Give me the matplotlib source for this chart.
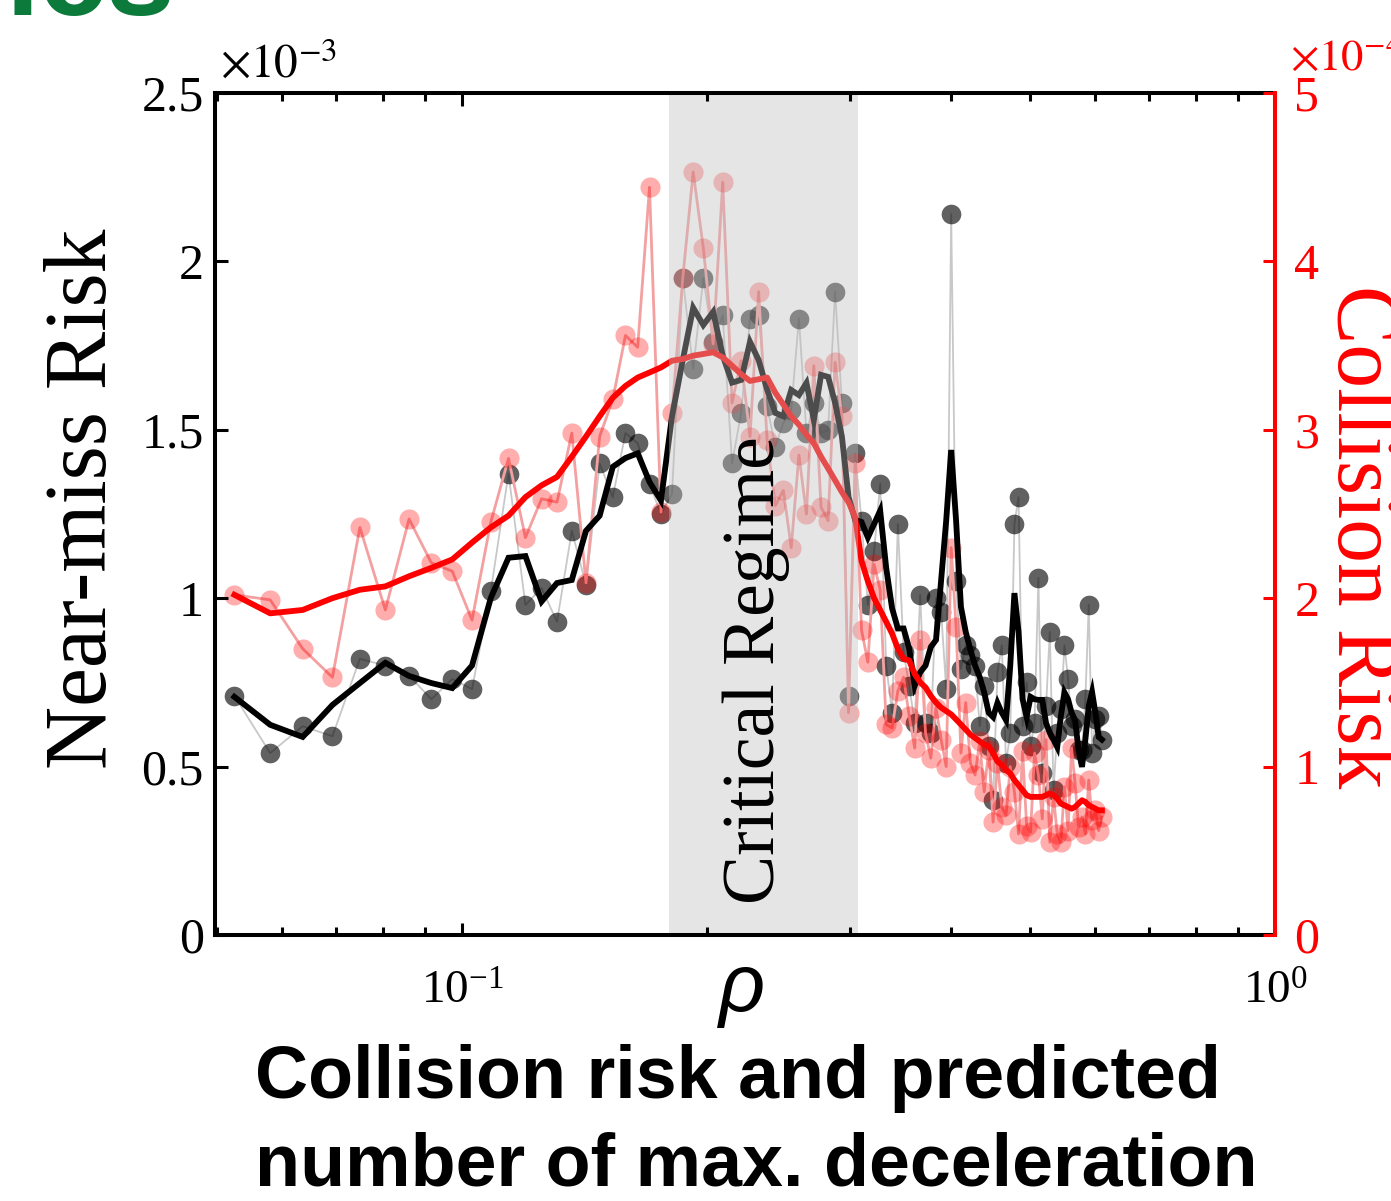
import matplotlib.pyplot as plt
from matplotlib.ticker import FixedLocator, FuncFormatter, LogLocator, NullFormatter


# density grid (rho) shared by both series
RHO = [
    0.0525, 0.0581, 0.0637, 0.0693, 0.0749, 0.0805, 0.0861, 0.0917, 0.0973, 0.1029,
    0.1085, 0.1141, 0.1197, 0.1253, 0.1309, 0.1365, 0.1421, 0.1477, 0.1533, 0.1589,
    0.1645, 0.1701, 0.1757, 0.1813, 0.1869, 0.1925, 0.1981, 0.2037, 0.2093, 0.2149,
    0.2205, 0.2261, 0.2317, 0.2373, 0.2429, 0.2485, 0.2541, 0.2597, 0.2653, 0.2709,
    0.2765, 0.2821, 0.2877, 0.2933, 0.2989, 0.3045, 0.3101, 0.3157, 0.3213, 0.3269,
    0.3325, 0.3381, 0.3437, 0.3493, 0.3549, 0.3605, 0.3661, 0.3717, 0.3773, 0.3829,
    0.3885, 0.3941, 0.3997, 0.4053, 0.4109, 0.4165, 0.4221, 0.4277, 0.4333, 0.4389,
    0.4445, 0.4501, 0.4557, 0.4613, 0.4669, 0.4725, 0.4781, 0.4837, 0.4893, 0.4949,
    0.5005, 0.5061, 0.5117, 0.5173, 0.5229, 0.5285, 0.5341, 0.5397, 0.5453, 0.5509,
    0.5565, 0.5621, 0.5677, 0.5733, 0.5789, 0.5845, 0.5901, 0.5957, 0.6013, 0.6069,
    0.6125,
]

# near-miss risk, units of 1e-3
NEAR_MISS_RAW = [
    0.71, 0.54, 0.62, 0.59, 0.82, 0.80, 0.77, 0.70, 0.76, 0.73,
    1.02, 1.37, 0.98, 1.03, 0.93, 1.20, 1.04, 1.40, 1.30, 1.49,
    1.46, 1.34, 1.25, 1.31, 1.95, 1.68, 1.95, 1.76, 1.84, 1.40,
    1.55, 1.83, 1.84, 1.57, 1.45, 1.52, 1.56, 1.83, 1.49, 1.58,
    1.49, 1.50, 1.91, 1.58, 0.71, 1.43, 1.23, 0.98, 1.14, 1.34,
    0.80, 0.66, 1.22, 0.84, 0.74, 0.63, 1.01, 0.63, 0.60, 1.00,
    0.96, 0.73, 2.14, 1.05, 0.79, 0.86, 0.83, 0.80, 0.62, 0.74,
    0.56, 0.40, 0.78, 0.86, 0.51, 0.60, 1.22, 1.30, 0.62, 0.75,
    0.56, 0.63, 1.06, 0.48, 0.68, 0.90, 0.43, 0.60, 0.67, 0.86,
    0.76, 0.62, 0.64, 0.55, 0.55, 0.70, 0.98, 0.54, 0.64, 0.65,
    0.58,
]
NEAR_MISS_SMOOTH = [
    0.707, 0.624, 0.588, 0.683, 0.748, 0.808, 0.769, 0.748, 0.733, 0.80,
    1.00, 1.12, 1.125, 0.99, 1.045, 1.054, 1.20, 1.245, 1.39, 1.416,
    1.43, 1.345, 1.29, 1.54, 1.707, 1.862, 1.811, 1.850, 1.72, 1.64,
    1.648, 1.761, 1.707, 1.62, 1.55, 1.54, 1.618, 1.603, 1.639, 1.529,
    1.663, 1.657, 1.58, 1.48, 1.30, 1.232, 1.226, 1.18, 1.22, 1.26,
    1.09, 0.97, 0.91, 0.91, 0.85, 0.74, 0.78, 0.80, 0.855, 0.876,
    1.054, 1.23, 1.44, 1.23, 0.974, 0.90, 0.846, 0.80, 0.766, 0.72,
    0.66, 0.647, 0.689, 0.66, 0.638, 0.80, 1.015, 0.90, 0.70, 0.647,
    0.707, 0.70, 0.698, 0.698, 0.629, 0.60, 0.58, 0.558, 0.65, 0.72,
    0.70, 0.66, 0.638, 0.55, 0.499, 0.58, 0.68, 0.721, 0.66, 0.588,
    0.58,
]

# collision risk, units of 1e-4
COLLISION_RAW = [
    2.02, 1.99, 1.70, 1.53, 2.42, 1.93, 2.47, 2.21, 2.16, 1.87,
    2.45, 2.83, 2.36, 2.59, 2.57, 2.98, 2.09, 2.96, 3.18, 3.56,
    3.49, 4.44, 2.51, 3.10, 3.90, 4.53, 4.08, 3.51, 4.47, 3.16,
    3.41, 2.96, 3.82, 2.94, 2.55, 2.64, 2.30, 2.85, 2.50, 3.38,
    2.54, 2.46, 3.40, 3.08, 1.32, 2.80, 1.81, 1.62, 2.20, 2.05,
    1.25, 1.23, 1.45, 1.53, 1.30, 1.11, 1.75, 1.20, 1.05, 1.35,
    1.16, 1.00, 2.30, 1.83, 1.08, 1.38, 1.02, 0.95, 1.15, 0.85,
    1.10, 0.67, 1.02, 0.76, 0.71, 1.00, 0.85, 0.60, 1.09, 0.65,
    0.61, 1.08, 0.95, 0.69, 1.16, 0.55, 0.82, 0.60, 0.55, 0.88,
    0.62, 1.11, 0.90, 0.64, 0.70, 0.60, 0.92, 0.68, 0.74, 0.62,
    0.70,
]
COLLISION_SMOOTH = [
    2.02, 1.91, 1.93, 2.00, 2.05, 2.07, 2.13, 2.18, 2.23, 2.33,
    2.42, 2.49, 2.60, 2.67, 2.72, 2.84, 2.96, 3.08, 3.19, 3.26,
    3.31, 3.34, 3.37, 3.41, 3.42, 3.44, 3.45, 3.46, 3.43, 3.38,
    3.33, 3.29, 3.30, 3.31, 3.22, 3.15, 3.08, 3.03, 2.97, 2.92,
    2.84, 2.77, 2.70, 2.63, 2.57, 2.48, 2.22, 2.10, 2.00, 1.93,
    1.86, 1.79, 1.70, 1.64, 1.63, 1.55, 1.50, 1.47, 1.42, 1.38,
    1.35, 1.33, 1.31, 1.28, 1.25, 1.22, 1.19, 1.17, 1.15, 1.13,
    1.12, 1.08, 1.03, 1.01, 0.98, 0.96, 0.92, 0.89, 0.86, 0.83,
    0.82, 0.82, 0.82, 0.82, 0.83, 0.84, 0.83, 0.81, 0.78, 0.77,
    0.76, 0.75, 0.76, 0.78, 0.80, 0.79, 0.77, 0.76, 0.75, 0.74,
    0.74,
]

NEAR_MISS_UNIT = 1e-3
COLLISION_UNIT = 1e-4
CRITICAL_REGIME = (0.18, 0.307)
LEFT_TICKS = [0.0, 0.5, 1.0, 1.5, 2.0, 2.5]
RIGHT_TICKS = [0, 1, 2, 3, 4, 5]

SERIF = "Liberation Serif"
SANS = "Liberation Sans"


def main() -> None:
    plt.rcParams.update({"font.family": SERIF, "mathtext.fontset": "stix"})
    fig = plt.figure(figsize=(13.91, 12.01), dpi=100)
    fig.patch.set_facecolor("white")

    ax = fig.add_axes([0.1546, 0.2215, 0.7620, 0.7011])
    twin = ax.twinx()

    ax.set_xscale("log")
    ax.set_xlim(0.0497, 1.0)
    ax.set_ylim(0, LEFT_TICKS[-1] * NEAR_MISS_UNIT)
    twin.set_ylim(0, RIGHT_TICKS[-1] * COLLISION_UNIT)

    near_raw = [v * NEAR_MISS_UNIT for v in NEAR_MISS_RAW]
    near_smooth = [v * NEAR_MISS_UNIT for v in NEAR_MISS_SMOOTH]
    coll_raw = [v * COLLISION_UNIT for v in COLLISION_RAW]
    coll_smooth = [v * COLLISION_UNIT for v in COLLISION_SMOOTH]

    # everything lives on ax so the stacking order can be controlled;
    # collision series use the twin's data transform (right axis scale)
    ax.plot(RHO, near_raw, color="#c8c8c8", lw=1.3, zorder=1)
    ax.scatter(RHO, near_raw, s=200, color="black", alpha=0.62, lw=0, zorder=2)
    ax.plot(RHO, coll_raw, color="#f4a0a0", lw=2.0, zorder=2.5, transform=twin.transData)
    ax.scatter(RHO, coll_raw, s=210, color="red", alpha=0.32, lw=0, zorder=3,
               transform=twin.transData)
    ax.plot(RHO, near_smooth, color="black", lw=4.2, zorder=4, solid_joinstyle="miter")
    ax.plot(RHO, coll_smooth, color="red", lw=4.2, zorder=4.5, transform=twin.transData)

    ax.axvspan(*CRITICAL_REGIME, color=(0.75, 0.75, 0.75), alpha=0.4, lw=0, zorder=5)
    ax.text(0.5425, 0.315, "Critical Regime", transform=ax.transAxes, rotation=90,
            ha="right", va="center", fontsize=53, zorder=6)

    # spines
    for name in ("left", "top", "bottom"):
        ax.spines[name].set_linewidth(2.9)
        ax.spines[name].set_zorder(10)
    ax.spines["right"].set_visible(False)
    for name in ("left", "top", "bottom"):
        twin.spines[name].set_visible(False)
    twin.spines["right"].set_color("red")
    twin.spines["right"].set_linewidth(2.9)

    # ticks
    ax.xaxis.set_major_locator(LogLocator(base=10))
    ax.xaxis.set_minor_locator(LogLocator(base=10, subs=[2, 3, 4, 5, 6, 7, 8, 9]))
    ax.xaxis.set_minor_formatter(NullFormatter())
    ax.yaxis.set_major_locator(FixedLocator([t * NEAR_MISS_UNIT for t in LEFT_TICKS]))
    ax.yaxis.set_major_formatter(FuncFormatter(lambda v, p: f"{v / NEAR_MISS_UNIT:g}"))
    twin.yaxis.set_major_locator(FixedLocator([t * COLLISION_UNIT for t in RIGHT_TICKS]))
    twin.yaxis.set_major_formatter(FuncFormatter(lambda v, p: f"{v / COLLISION_UNIT:g}"))

    ax.tick_params(axis="x", which="both", direction="in", top=True, bottom=True,
                   width=2.2, labelsize=34, pad=26)
    ax.tick_params(axis="x", which="major", length=9)
    ax.tick_params(axis="x", which="minor", length=5.5)
    ax.tick_params(axis="y", which="major", direction="in", left=True, right=False,
                   length=9, width=2.2, labelsize=36, pad=8)
    twin.tick_params(axis="y", which="major", direction="in", length=9, width=2.2,
                     colors="red", labelsize=36, pad=14)
    ax.xaxis.set_zorder(10)
    ax.yaxis.set_zorder(10)

    # axis labels and multipliers
    fig.text(125 / 1391, 1 - 499 / 1201, "Near-miss Risk", rotation=90,
             ha="right", va="center", fontsize=63)
    fig.text(1319 / 1391, 1 - 537 / 1201, "Collision Risk", rotation=270, color="red",
             ha="left", va="center", fontsize=63)
    fig.text(220 / 1391, 1 - 78 / 1201, r"$\times10^{-3}$", fontsize=34, va="baseline")
    fig.text(1290 / 1391, 1 - 70 / 1201, r"$\times10^{-4}$", fontsize=32, va="baseline",
             color="red")
    fig.text(742 / 1391, 1 - 990 / 1201, "ρ", family=SANS, style="italic",
             fontsize=58, ha="center", va="center")

    # caption and the clipped heading above
    fig.text(255 / 1391, 1 - 1098 / 1201, "Collision risk and predicted", family=SANS,
             weight="bold", fontsize=53, va="baseline")
    fig.text(255 / 1391, 1 - 1185 / 1201, "number of max. deceleration", family=SANS,
             weight="bold", fontsize=53, va="baseline")
    fig.text(5 / 1391, 1 - 15 / 1201, "ics", family=SANS, weight="bold",
             fontsize=88, color="#0b7a3b", va="baseline")

    fig.savefig("out.png", dpi=100)


if __name__ == "__main__":
    main()
